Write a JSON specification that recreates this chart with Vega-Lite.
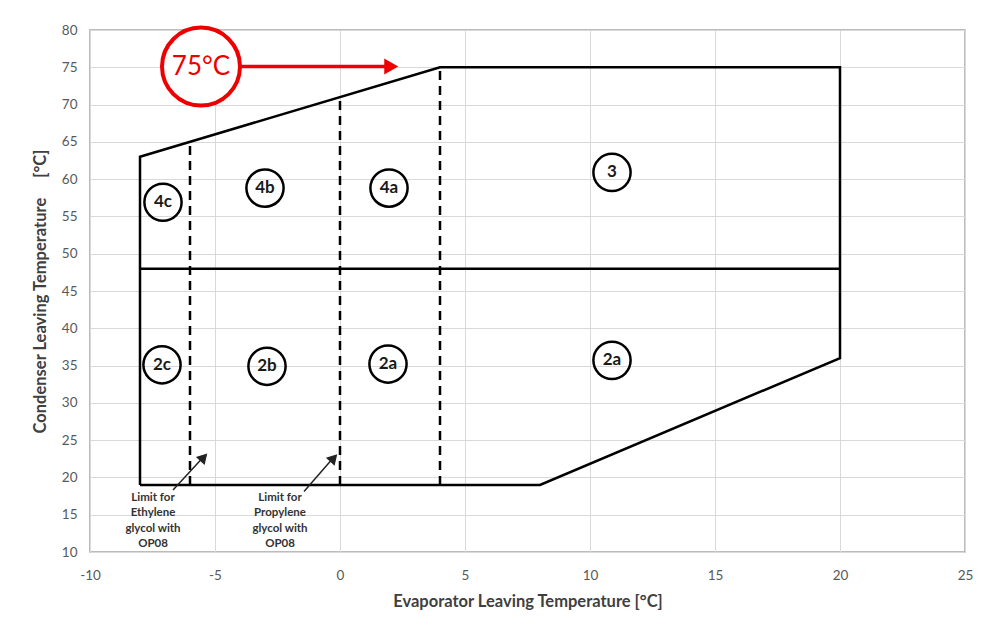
{
  "$schema": "https://vega.github.io/schema/vega-lite/v6.json",
  "width": 875,
  "height": 522,
  "autosize": "none",
  "padding": {"left": 90, "top": 30, "right": 27, "bottom": 78},
  "background": "white",
  "config": {
    "view": {"stroke": "#a6a6a6", "strokeWidth": 1.5},
    "font": "Lato",
    "axis": {
      "domain": false,
      "ticks": false,
      "grid": true,
      "gridColor": "#d9d9d9",
      "gridWidth": 1,
      "labelColor": "#595959",
      "labelFont": "Lato",
      "labelFontSize": 13.5,
      "labelFlush": false,
      "labelOverlap": false,
      "titleColor": "#404040",
      "titleFont": "Lato",
      "titleFontSize": 16.5,
      "titleFontWeight": "bold"
    }
  },
  "datasets": {
    "outline": [
      {"seg": "envelope", "ord": 1, "x": -8, "y": 19},
      {"seg": "envelope", "ord": 2, "x": -8, "y": 63},
      {"seg": "envelope", "ord": 3, "x": 4, "y": 75},
      {"seg": "envelope", "ord": 4, "x": 20, "y": 75},
      {"seg": "envelope", "ord": 5, "x": 20, "y": 36},
      {"seg": "envelope", "ord": 6, "x": 8, "y": 19},
      {"seg": "envelope", "ord": 7, "x": -8, "y": 19},
      {"seg": "split", "ord": 1, "x": -8, "y": 48},
      {"seg": "split", "ord": 2, "x": 20, "y": 48}
    ],
    "dashes": [
      {"x": -6, "y": 19, "y2": 65},
      {"x": 0, "y": 19, "y2": 71},
      {"x": 4, "y": 19, "y2": 75}
    ],
    "zones": [
      {"label": "4c", "x": -7.08, "y": 56.9},
      {"label": "4b", "x": -3.0, "y": 58.8},
      {"label": "4a", "x": 1.96, "y": 58.8},
      {"label": "3", "x": 10.88, "y": 60.9},
      {"label": "2c", "x": -7.12, "y": 35.1},
      {"label": "2b", "x": -2.92, "y": 34.9},
      {"label": "2a", "x": 1.92, "y": 35.2},
      {"label": "2a", "x": 10.88, "y": 35.7}
    ],
    "notes": [
      {"text": ["Limit for", "Ethylene", "glycol with", "OP08"], "x": -7.48, "y": 17.25},
      {"text": ["Limit for", "Propylene", "glycol with", "OP08"], "x": -2.4, "y": 17.3}
    ],
    "arrows": [
      {"x": -6.68, "y": 18.3, "x2": -5.5, "y2": 22.6},
      {"x": -1.44, "y": 18.1, "x2": -0.3, "y2": 22.5}
    ],
    "heads": [
      {"x": -5.45, "y": 22.7},
      {"x": -0.25, "y": 22.6}
    ],
    "callout": [
      {"label": "75°C", "x": -5.56, "y": 75.1, "x2": 1.9}
    ],
    "callout_head": [
      {"x": 2.05, "y": 75.1}
    ]
  },
  "encoding": {
    "x": {"field": "x", "type": "quantitative", "scale": {"domain": [-10, 25], "nice": false, "zero": false}, "axis": {"values": [-10, -5, 0, 5, 10, 15, 20, 25], "labelExpr": "datum.value < 0 ? '-' + abs(datum.value) : '' + datum.value", "title": "Evaporator Leaving Temperature [°C]", "labelPadding": 16, "titlePadding": 12}},
    "y": {"field": "y", "type": "quantitative", "scale": {"domain": [10, 80], "nice": false, "zero": false}, "axis": {"values": [10, 15, 20, 25, 30, 35, 40, 45, 50, 55, 60, 65, 70, 75, 80], "title": "Condenser Leaving Temperature\u00a0\u00a0\u00a0\u00a0\u00a0[°C]", "labelPadding": 13, "titlePadding": 13}}
  },
  "layer": [
    {
      "data": {"name": "outline"},
      "mark": {"type": "line", "color": "black", "strokeWidth": 2.5},
      "encoding": {
        "detail": {"field": "seg"},
        "order": {"field": "ord", "type": "quantitative"}
      }
    },
    {
      "data": {"name": "dashes"},
      "mark": {"type": "rule", "color": "black", "strokeWidth": 2.5, "strokeDash": [9, 6]},
      "encoding": {
        "y2": {"field": "y2"}
      }
    },
    {
      "data": {"name": "zones"},
      "mark": {"type": "point", "shape": "circle", "filled": true, "fill": "white", "fillOpacity": 0, "stroke": "black", "strokeWidth": 2.5, "size": 1385, "opacity": 1},
      "encoding": {}
    },
    {
      "data": {"name": "zones"},
      "mark": {"type": "text", "font": "Lato", "fontSize": 17, "fontWeight": "bold", "color": "#1a1a1a", "baseline": "middle", "align": "center"},
      "encoding": {
        "text": {"field": "label"}
      }
    },
    {
      "data": {"name": "notes"},
      "mark": {"type": "text", "font": "Lato", "fontSize": 11.5, "fontWeight": "bold", "color": "#333333", "baseline": "middle", "align": "center", "lineHeight": 15.5},
      "encoding": {
        "text": {"field": "text"}
      }
    },
    {
      "data": {"name": "arrows"},
      "mark": {"type": "rule", "color": "#222222", "strokeWidth": 1.5},
      "encoding": {
        "x2": {"field": "x2"},
        "y2": {"field": "y2"}
      }
    },
    {
      "data": {"name": "heads"},
      "mark": {"type": "point", "shape": "triangle-up", "filled": true, "color": "#222222", "size": 140, "angle": 43, "opacity": 1},
      "encoding": {}
    },
    {
      "data": {"name": "callout"},
      "mark": {"type": "rule", "color": "#ee0000", "strokeWidth": 3.5},
      "encoding": {
        "x2": {"field": "x2"}
      }
    },
    {
      "data": {"name": "callout"},
      "mark": {"type": "point", "shape": "circle", "filled": true, "fill": "white", "stroke": "#ee0000", "strokeWidth": 4, "size": 6082, "opacity": 1},
      "encoding": {}
    },
    {
      "data": {"name": "callout_head"},
      "mark": {"type": "point", "shape": "triangle-right", "filled": true, "color": "#ee0000", "size": 260, "opacity": 1},
      "encoding": {}
    },
    {
      "data": {"name": "callout"},
      "mark": {"type": "text", "font": "Lato", "fontSize": 26, "color": "#ee0000", "baseline": "middle", "align": "center"},
      "encoding": {
        "text": {"field": "label"}
      }
    }
  ]
}
